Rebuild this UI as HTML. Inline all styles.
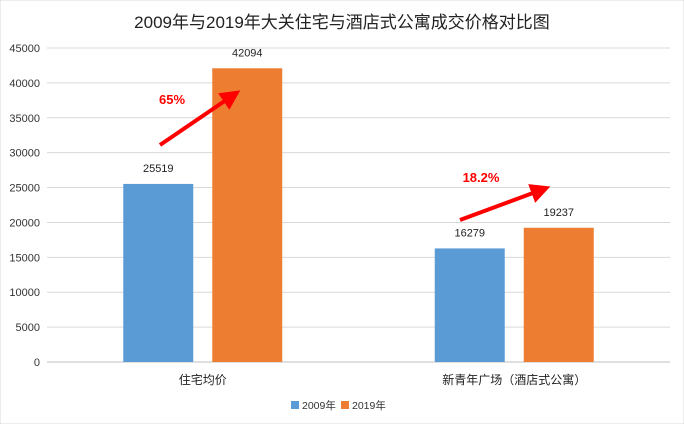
<!DOCTYPE html>
<html><head><meta charset="utf-8"><style>
body{margin:0;background:#fff;}
svg{display:block;font-family:"Liberation Sans","Noto Sans CJK SC",sans-serif;}
</style></head><body>
<svg id="c" width="684" height="424">
<rect x="0" y="0" width="684" height="424" fill="#fff" stroke="#d9d9d9"/>
<text x="342" y="28" text-anchor="middle" font-size="17" fill="#222">2009年与2019年大关住宅与酒店式公寓成交价格对比图</text>
<g id="grid"></g><g id="bars"></g>
<defs><marker id="ah" markerWidth="5" markerHeight="5" refX="2.5" refY="2.5" orient="auto" markerUnits="strokeWidth"><path d="M0,0 L5,2.5 L0,5 z" fill="#ff0000"/></marker></defs>
<line x1="160" y1="145" x2="232" y2="96" stroke="#ff0000" stroke-width="4" marker-end="url(#ah)"/>
<text x="172" y="104" font-size="13" font-weight="bold" fill="#ff0000" text-anchor="middle">65%</text>
<line x1="460" y1="220" x2="541" y2="190" stroke="#ff0000" stroke-width="4" marker-end="url(#ah)"/>
<text x="481" y="182" font-size="13" font-weight="bold" fill="#ff0000" text-anchor="middle">18.2%</text>
<rect x="291" y="401" width="8" height="8" fill="#5b9bd5"/>
<text x="302" y="409" font-size="10.5" fill="#333">2009年</text>
<rect x="341" y="401" width="8" height="8" fill="#ed7d31"/>
<text x="352" y="409" font-size="10.5" fill="#333">2019年</text>
</svg>
<script>
const categories=["住宅均价","新青年广场（酒店式公寓）"];
const series2009=[25519,16279];
const series2019=[42094,19237];
const yTicks=[0,5000,10000,15000,20000,25000,30000,35000,40000,45000];
const NS="http://www.w3.org/2000/svg";
const x0=47,x1=670,yb=362,yt=48,ymax=45000;
const y=v=>yb-(v/ymax)*(yb-yt);
const groupW=(x1-x0)/categories.length;
function mk(t,a,p){const e=document.createElementNS(NS,t);for(const k in a)e.setAttribute(k,a[k]);p.appendChild(e);return e;}
const g=document.getElementById('grid'),b=document.getElementById('bars');
yTicks.forEach(v=>{
 const l=mk('line',{x1:x0,x2:x1,y1:y(v),y2:y(v),stroke:v===0?'#bfbfbf':'#d9d9d9','stroke-width':1},g);
 
 
 const t=mk('text',{x:40,y:y(v)+4,'text-anchor':'end','font-size':11,fill:'#333'},g);t.textContent=v;
 
 
});
const bw=70,gap=19;
categories.forEach((c,i)=>{
 const cx=x0+groupW*(i+0.5);
 [[series2009,'#5b9bd5',-1],[series2019,'#ed7d31',1]].forEach(([s,col,d])=>{
  const bx=d<0?cx-gap/2-bw:cx+gap/2;
  const r=mk('rect',{x:bx,y:y(s[i]),width:bw,height:yb-y(s[i]),fill:col},b);
  
  
  const t=mk('text',{x:bx+bw/2,y:y(s[i])-12,'text-anchor':'middle','font-size':11,fill:'#222'},b);t.textContent=s[i];
  
  
 });
 const t=mk('text',{x:cx,y:384,'text-anchor':'middle','font-size':12,fill:'#222'},b);t.textContent=c;
 
 
});
</script>
</body></html>
